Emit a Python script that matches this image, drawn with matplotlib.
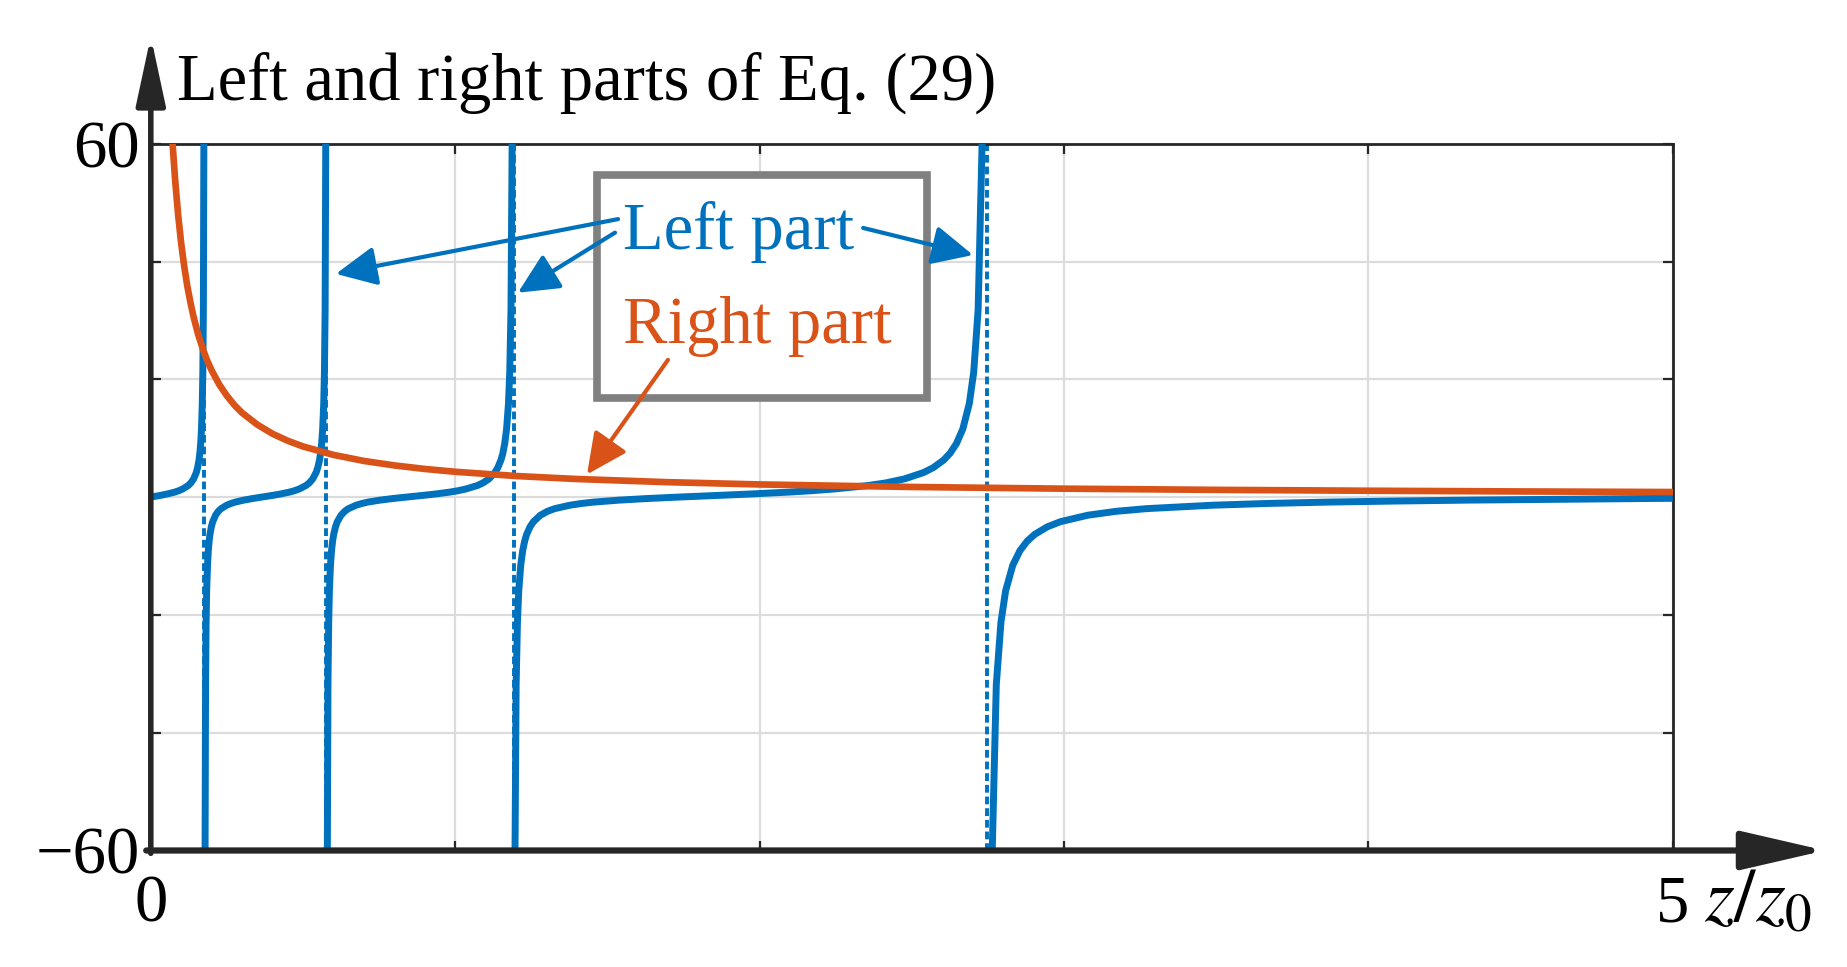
import matplotlib
matplotlib.use('Agg')
import matplotlib.pyplot as plt
from matplotlib.patches import Rectangle

plt.rcParams['font.family'] = ['Liberation Serif', 'DejaVu Serif']
plt.rcParams['mathtext.fontset'] = 'stix'

# ---------------- data ----------------
# Left part of Eq. (29): five branches separated by vertical asymptotes
left_z_0 = [0.0, 0.0262, 0.0524, 0.0787, 0.0919, 0.1051, 0.1228, 0.1317, 0.1405, 0.1495,
            0.1539, 0.1584, 0.1611, 0.1638, 0.1665, 0.1691, 0.1709, 0.1727, 0.1745]
left_y_0 = [0.0, 0.24, 0.51, 0.85, 1.08, 1.38, 1.96, 2.41, 3.08, 4.17,
            5.03, 6.31, 7.44, 9.06, 11.55, 15.89, 21.21, 31.82, 63.66]

left_z_1 = [0.1781, 0.1799, 0.1817, 0.1835, 0.1863, 0.1890, 0.1917, 0.1944, 0.1989, 0.2035,
            0.2126, 0.2217, 0.2309, 0.2493, 0.2633, 0.2773, 0.3057, 0.3346, 0.3640, 0.3939,
            0.4245, 0.4557, 0.4716, 0.4877, 0.5095, 0.5206, 0.5317, 0.5430, 0.5486, 0.5543,
            0.5577, 0.5612, 0.5646, 0.5681, 0.5704, 0.5727, 0.5750]
left_z_2 = [0.5797, 0.5820, 0.5844, 0.5867, 0.5902, 0.5938, 0.5973, 0.6009, 0.6068, 0.6128,
            0.6249, 0.6371, 0.6494, 0.6745, 0.6937, 0.7133, 0.7536, 0.7954, 0.8391, 0.8847,
            0.9325, 0.9827, 1.0088, 1.0355, 1.0724, 1.0913, 1.1106, 1.1303, 1.1403, 1.1504,
            1.1565, 1.1626, 1.1688, 1.1750, 1.1792, 1.1833, 1.1875]
left_z_3 = [1.1960, 1.2002, 1.2045, 1.2088, 1.2153, 1.2218, 1.2283, 1.2349, 1.2460, 1.2572,
            1.2799, 1.3032, 1.3270, 1.3764, 1.4150, 1.4550, 1.5399, 1.6319, 1.7321, 1.8418,
            1.9626, 2.0965, 2.1692, 2.2460, 2.3559, 2.4142, 2.4751, 2.5387, 2.5714, 2.6051,
            2.6256, 2.6464, 2.6675, 2.6889, 2.7034, 2.7179, 2.7326]
left_y_mid = [-63.66, -31.82, -21.21, -15.89, -11.55, -9.06, -7.44, -6.31, -5.03, -4.17,
              -3.08, -2.41, -1.96, -1.38, -1.08, -0.85, -0.51, -0.24, 0.0, 0.24,
              0.51, 0.85, 1.08, 1.38, 1.96, 2.41, 3.08, 4.17, 5.03, 6.31,
              7.44, 9.06, 11.55, 15.89, 21.21, 31.82, 63.66]

left_z_4 = [2.7625, 2.7776, 2.7929, 2.8083, 2.8318, 2.8556, 2.8797, 2.9042, 2.9459, 2.9886,
            3.0777, 3.1716, 3.2709, 3.4874, 3.6680, 3.8667, 4.0866, 4.3315, 4.9152, 5.0]
left_y_4 = [-63.66, -31.82, -21.21, -15.89, -11.55, -9.06, -7.44, -6.31, -5.03, -4.17,
            -3.08, -2.41, -1.96, -1.38, -1.08, -0.85, -0.67, -0.51, -0.24, -0.21]

# asymptotes of the left part (dashed)
asymptote_z = [0.176, 0.577, 1.192, 2.747]

# Right part of Eq. (29)
right_z = [0.065, 0.072, 0.08, 0.09, 0.10, 0.11, 0.12, 0.13, 0.14, 0.155, 0.17, 0.185,
           0.20, 0.225, 0.25, 0.275, 0.30, 0.35, 0.40, 0.45, 0.50, 0.60, 0.70, 0.80,
           0.90, 1.0, 1.2, 1.4, 1.7, 2.0, 2.5, 3.0, 3.5, 4.0, 4.5, 5.0]
right_y = [66.2, 59.7, 53.8, 47.8, 43.0, 39.1, 35.8, 33.1, 30.7, 27.7, 25.3, 23.2,
           21.5, 19.1, 17.2, 15.6, 14.3, 12.3, 10.75, 9.56, 8.6, 7.17, 6.14, 5.38,
           4.78, 4.3, 3.58, 3.07, 2.53, 2.15, 1.72, 1.43, 1.23, 1.08, 0.96, 0.86]

x_ticks = [0, 1, 2, 3, 4, 5]
x_tick_labels = ['0', '', '', '', '', '5']
y_ticks = [-60, -40, -20, 0, 20, 40, 60]
y_tick_labels = ['\u221260', '', '', '', '', '', '60']

BLUE = '#0072BD'
ORANGE = '#D95319'
DARK = '#262626'

# ---------------- figure ----------------
W, H = 1847, 967
fig = plt.figure(figsize=(W / 100, H / 100), dpi=100)
ax = fig.add_axes([150.8 / W, 1 - 850.5 / H, (1672.8 - 150.8) / W, (850.5 - 143.7) / H])

ax.set_xlim(0, 5)
ax.set_ylim(-60, 60)

ax.grid(True, color='#dcdcdc', linewidth=1.6)
ax.set_axisbelow(True)

# dashed asymptotes
for za in asymptote_z:
    ax.axvline(za, color=BLUE, linewidth=2.8, dashes=(2.0, 1.0), zorder=2)

# left part
for zz, yy in [(left_z_0, left_y_0), (left_z_1, left_y_mid), (left_z_2, left_y_mid),
               (left_z_3, left_y_mid), (left_z_4, left_y_4)]:
    ax.plot(zz, yy, color=BLUE, linewidth=5.0, solid_capstyle='butt',
            solid_joinstyle='round', zorder=3)

# right part
ax.plot(right_z, right_y, color=ORANGE, linewidth=4.8, solid_joinstyle='round', zorder=4)

# ticks
ax.set_xticks(x_ticks)
ax.set_xticklabels(x_tick_labels)
ax.set_yticks(y_ticks)
ax.set_yticklabels(y_tick_labels)
ax.tick_params(direction='in', length=7, width=1.6, color=DARK, top=True, right=True,
               labelsize=48, labelcolor='black')
ax.tick_params(axis='x', pad=17)
ax.tick_params(axis='y', pad=8)

for s in ['top', 'right']:
    ax.spines[s].set_color(DARK)
    ax.spines[s].set_linewidth(2.0)
for s in ['left', 'bottom']:
    ax.spines[s].set_visible(False)

# axis arrows
ax.annotate('', xy=(1.100, 0), xytext=(-0.003, 0), xycoords='axes fraction',
            arrowprops=dict(arrowstyle='-|>,head_length=52,head_width=12', mutation_scale=1,
                            lw=4.5, color=DARK, shrinkA=0, shrinkB=0),
            annotation_clip=False, zorder=10)
ax.annotate('', xy=(0, 1.152), xytext=(0, -0.004), xycoords='axes fraction',
            arrowprops=dict(arrowstyle='-|>,head_length=42,head_width=9', mutation_scale=1,
                            lw=4.0, color=DARK, shrinkA=0, shrinkB=0),
            annotation_clip=False, zorder=10)

# legend-like box
ax.add_patch(Rectangle((1.466, 16.9), 2.550 - 1.466, 54.7 - 16.9, facecolor='white',
                       edgecolor='#808080', linewidth=5.5, zorder=5))
ax.text(1.551, 42.2, 'Left part', color=BLUE, fontsize=48, va='baseline', ha='left', zorder=6)
ax.text(1.551, 26.1, 'Right part', color=ORANGE, fontsize=48, va='baseline', ha='left', zorder=6)

arrow_kw = dict(arrowstyle='-|>,head_length=25,head_width=12', mutation_scale=1,
                lw=3.0, shrinkA=0, shrinkB=0)
for start, end in [((1.535, 47.2), (0.608, 37.9)),
                   ((1.525, 44.9), (1.206, 34.7)),
                   ((2.340, 45.7), (2.701, 41.1))]:
    ax.annotate('', xy=end, xytext=start, xycoords='data',
                arrowprops=dict(color=BLUE, **arrow_kw), zorder=7)
ax.annotate('', xy=(1.433, 3.85), xytext=(1.699, 23.3), xycoords='data',
            arrowprops=dict(color=ORANGE, **arrow_kw), zorder=7)

# titles / labels
fig.text(177 / W, 1 - 100 / H, 'Left and right parts of Eq. (29)', fontsize=48,
         va='baseline', ha='left')
fig.text(1704 / W, 1 - 921 / H, r'$z/z_0$', fontsize=55, va='baseline', ha='left')

fig.savefig('out.png', dpi=100)
